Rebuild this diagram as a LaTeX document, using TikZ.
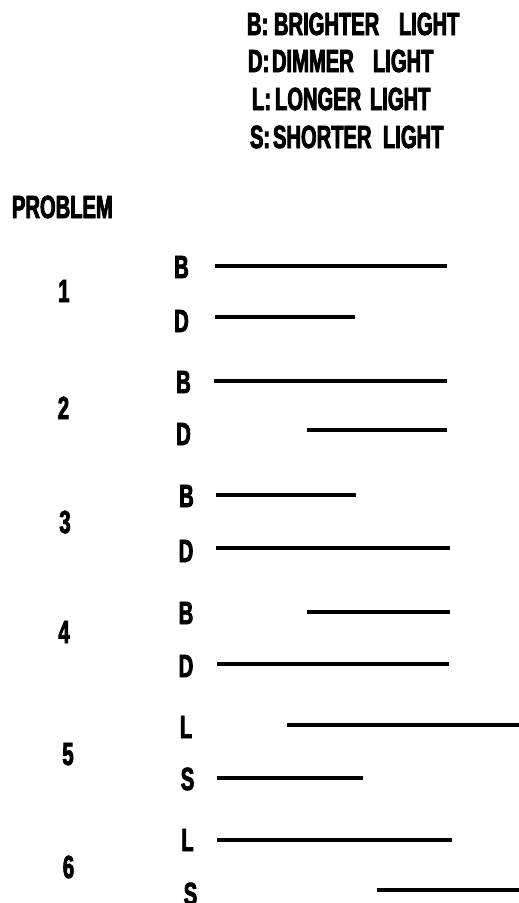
\documentclass[tikz,border=0pt]{standalone}
\usepackage{fontspec}
\newfontfamily\cond[FakeStretch=0.63,FakeBold=2.6]{Liberation Sans}
\begin{document}
\begin{tikzpicture}[x=1pt,y=-1pt,
  txt/.style={inner sep=0pt,outer sep=0pt,font=\cond\bfseries\fontsize{32}{32}\selectfont},
  hdr/.style={txt,anchor=base west},
  lab/.style={txt,anchor=base},
  bar/.style={line width=3.3pt,line cap=butt}]
\useasboundingbox (0,0) rectangle (519,903);
% legend
\node[hdr] (h1) at (247,35) {\makebox[27pt][l]{B:}\makebox[125pt][l]{BRIGHTER}LIGHT};
\node[hdr] (h2) at (248,72) {\makebox[24pt][l]{D:}\makebox[101pt][l]{DIMMER}LIGHT};
\node[hdr] (h3) at (252,110) {\makebox[23pt][l]{L:}\makebox[95pt][l]{LONGER}LIGHT};
\node[hdr] (h4) at (250,148) {\makebox[23pt][l]{S:}\makebox[110pt][l]{SHORTER}LIGHT};
\node[hdr] (prob) at (12,218) {PROBLEM};
% problem numbers
\node[lab] (n1) at (64,302) {1};
\node[lab] (n2) at (63.5,419) {2};
\node[lab] (n3) at (65,533) {3};
\node[lab] (n4) at (64,643) {4};
\node[lab] (n5) at (68,765) {5};
\node[lab] (n6) at (68.5,878) {6};
% row labels
\node[lab] (b1) at (181.5,278) {B};
\node[lab] (d1) at (181.5,332) {D};
\node[lab] (b2) at (183.5,393) {B};
\node[lab] (d2) at (183.5,445) {D};
\node[lab] (b3) at (186.5,507) {B};
\node[lab] (d3) at (186,562) {D};
\node[lab] (b4) at (186,624) {B};
\node[lab] (d4) at (186,677) {D};
\node[lab] (l5) at (186,738) {L};
\node[lab] (s5) at (187.5,790) {S};
\node[lab] (l6) at (187.5,851) {L};
\node[lab] (s6) at (190.5,905) {S};
% bars
\draw[bar] (215,266) -- (447,266);
\draw[bar] (215,317) -- (355,317);
\draw[bar] (214,381) -- (447,381);
\draw[bar] (307,430) -- (447,430);
\draw[bar] (216,495) -- (356,495);
\draw[bar] (216,548) -- (450,548);
\draw[bar] (307,612) -- (450,612);
\draw[bar] (217,664) -- (449,664);
\draw[bar] (287,725) -- (519,725);
\draw[bar] (217,778) -- (363,778);
\draw[bar] (217,840) -- (452,840);
\draw[bar] (377,890) -- (519,890);
\end{tikzpicture}
\end{document}
